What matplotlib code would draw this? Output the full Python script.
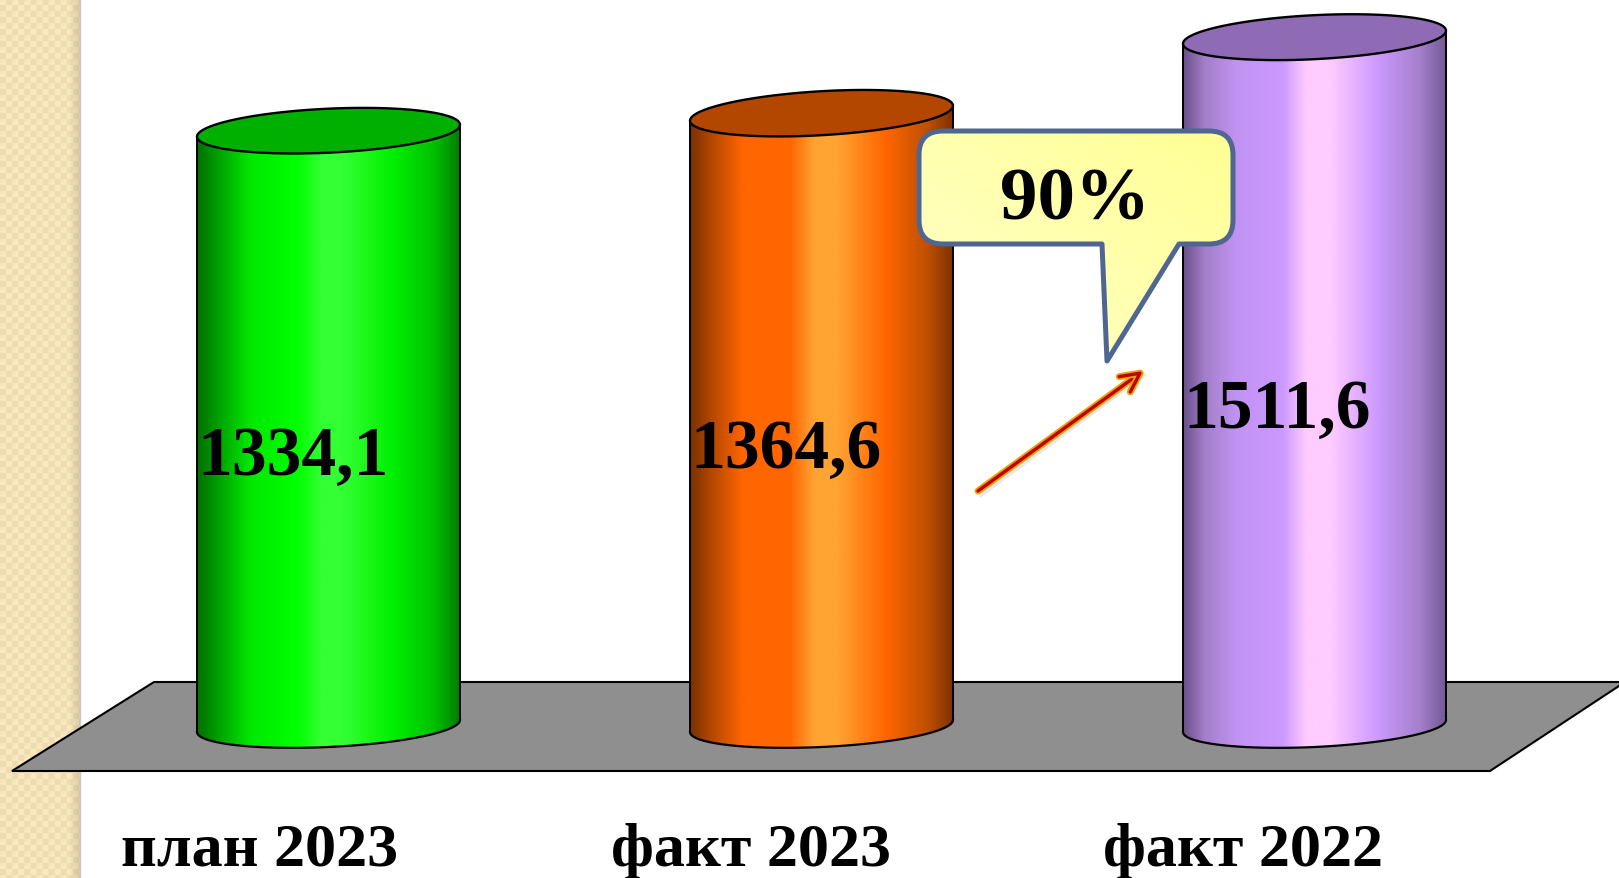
import numpy as np
import matplotlib
matplotlib.use('Agg')
import matplotlib.pyplot as plt
import matplotlib.patheffects as pe
from matplotlib.patches import PathPatch, Polygon
from matplotlib.path import Path

# data
categories = ['план 2023', 'факт 2023', 'факт 2022']
values = [1334.1, 1364.6, 1511.6]
value_labels = ['1334,1', '1364,6', '1511,6']
callout_text = '90%'

# the fake 3d columns don't start at 0, this base and scale fit all three
V_BASE = 198.0
PX_PER_UNIT = 0.524
BASE_ROW = 733


def py(row):
    # picture row -> y value
    return V_BASE + (BASE_ROW - row) / PX_PER_UNIT


def vrow(v):
    return BASE_ROW - (v - V_BASE) * PX_PER_UNIT


plt.rcParams['font.family'] = ['Liberation Serif', 'DejaVu Serif']
fig = plt.figure(figsize=(16.19, 8.79), dpi=100, facecolor='white')
ax = fig.add_axes([0, 0, 1, 1])
ax.axis('off')

# left decorative strip
yy, xx = np.mgrid[0:879, 0:80]
check = ((xx // 6 + yy // 6) % 2).astype(float)
inner = (((xx + 3) // 3 % 4 == 1) & ((yy + 3) // 3 % 4 == 1)).astype(float)
light = np.array([250, 232, 190]) / 255
dark = np.array([236, 219, 176]) / 255
strip = light + (dark - light) * (check * 0.9 + inner * 0.35)[..., None]
fade = 1 - np.clip((xx - 68) / 12, 0, 1)[..., None] * 0.13
strip = np.clip(strip * fade, 0, 1)
ax.imshow(strip, extent=[0, 80, py(879), py(0)], aspect='auto', zorder=1, interpolation='bilinear')
ax.plot([80, 80], [py(0), py(879)], color='#c9c9c9', lw=1, zorder=1.5)

# floor
floor = [(12, py(772)), (154, py(683)), (1625, py(683)), (1490, py(772))]
ax.add_patch(Polygon(floor, closed=True, facecolor='#8f8f8f', edgecolor='black', lw=1.5, zorder=2))

# columns
col_left = [197, 690, 1183]
col_width = 263
top_tilt = [6, 7.5, 6.5]
stops = [0, 0.08, 0.2, 0.38, 0.47, 0.56, 0.74, 0.9, 1]
body_colors = [
    ['#006f00', '#00a000', '#00e800', '#00ff00', '#33ff33', '#33ff33', '#00f000', '#00c000', '#007a00'],
    ['#7a3000', '#b34700', '#ff6600', '#ff6600', '#ffa333', '#ffa333', '#ff6600', '#c05000', '#7a3000'],
    ['#6a4f8a', '#a27ec8', '#c093f2', '#cc99ff', '#ffccff', '#ffccff', '#cc99ff', '#a580cc', '#735a96'],
]
top_colors = ['#00b000', '#b34700', '#8f6bb5']


def to_rgb_arr(hexes):
    return np.array([matplotlib.colors.to_rgb(c) for c in hexes])


t_front = np.linspace(np.pi, 2 * np.pi, 80)
t_all = np.linspace(0, 2 * np.pi, 160)
MINOR = 22

for i in range(3):
    x0 = col_left[i]
    x1 = x0 + col_width
    cx = (x0 + x1) / 2
    a = col_width / 2
    tilt = top_tilt[i]
    top_row = vrow(values[i]) - tilt
    bot_row = BASE_ROW - 6

    # lower rim front half, then back up the right side and across the top
    bx = cx + a * np.cos(t_front)
    by = bot_row - 6 * np.cos(t_front) - 21 * np.sin(t_front)
    tx = cx + a * np.cos(t_all)
    ty = top_row - tilt * np.cos(t_all) - MINOR * np.sin(t_all)
    verts = list(zip(bx, py(by))) + [(x1, py(top_row - tilt)), (x0, py(top_row + tilt))]
    body = Polygon(verts, closed=True, facecolor='none', edgecolor='none', zorder=3)
    ax.add_patch(body)

    pos = np.linspace(0, 1, 400)
    rgb = to_rgb_arr(body_colors[i])
    grad = np.stack([np.interp(pos, stops, rgb[:, k]) for k in range(3)], axis=-1)[None, :, :]
    im = ax.imshow(grad, extent=[x0, x1, py(760), py(top_row - 30)], aspect='auto', zorder=3)
    im.set_clip_path(body)

    ax.plot(bx, py(by), color='black', lw=1.6, zorder=4)
    ax.plot([x0, x0], [py(by[0]), py(top_row + tilt)], color='black', lw=1.4, zorder=4)
    ax.plot([x1, x1], [py(by[-1]), py(top_row - tilt)], color='black', lw=1.4, zorder=4)
    ax.add_patch(Polygon(list(zip(tx, py(ty))), closed=True, facecolor=top_colors[i],
                         edgecolor='black', lw=1.7, zorder=5))

# value labels
label_x = [197, 690, 1183]
label_row = [475, 468, 428]
for i in range(3):
    ax.text(label_x[i], py(label_row[i]), value_labels[i], fontsize=50, fontweight='bold',
            color='black', ha='left', va='baseline', zorder=8)

# category labels
cat_x = [121, 611, 1103]
for i in range(3):
    ax.text(cat_x[i], py(866), categories[i], fontsize=44.7, fontweight='bold',
            color='black', ha='left', va='baseline', zorder=8)

# arrow
start = (978, py(492))
tip = (1143, py(372))
ax.plot([start[0] + 3, tip[0] + 1], [start[1] - 4 / PX_PER_UNIT, tip[1] - 4 / PX_PER_UNIT],
        color='#aaaaaa', lw=3, alpha=0.25, zorder=6)
ax.annotate('', xy=tip, xytext=start, zorder=7,
            arrowprops=dict(arrowstyle='->', color='#c00000', lw=2.4, mutation_scale=34,
                            shrinkA=0, shrinkB=0,
                            path_effects=[pe.Stroke(linewidth=5, foreground='#e8a400'), pe.Normal()]))

# callout
L, R, T, B = 919, 1233, 132, 245
r = 24
M, C = Path.MOVETO, Path.CURVE3
call_verts = [
    (L + r, T), (R - r, T), (R, T), (R, T + r), (R, B - r), (R, B), (R - r, B),
    (1179, B), (1107, 362), (1102, B), (L + r, B), (L, B), (L, B - r), (L, T + r), (L, T), (L + r, T),
]
call_codes = [M, Path.LINETO, C, C, Path.LINETO, C, C, Path.LINETO, Path.LINETO, Path.LINETO,
              Path.LINETO, C, C, Path.LINETO, C, C]
call_path = Path([(x, py(y)) for x, y in call_verts], call_codes)
call_patch = PathPatch(call_path, facecolor='none', edgecolor='#4f6592', lw=3.6, joinstyle='round', zorder=6.5)
ax.add_patch(call_patch)
gx, gy = np.meshgrid(np.linspace(0, 1, 100), np.linspace(0, 1, 100))
mix = np.clip((gx + gy) / 2, 0, 1)[..., None]
call_grad = np.array([1, 1, 0.8]) * (1 - mix) + np.array([1, 1, 0.58]) * mix
# row 0 of the image is the top of the box
call_grad = call_grad[::-1]
call_im = ax.imshow(call_grad, extent=[L, R, py(370), py(T)], aspect='auto', zorder=6.4, origin='upper')
call_im.set_clip_path(call_patch)
ax.text(1075, py(219), callout_text, fontsize=54, fontweight='bold', color='black',
        ha='center', va='baseline', zorder=8)

ax.set_xlim(0, 1619)
ax.set_ylim(py(879), py(0))
fig.savefig('out.png', dpi=100)
